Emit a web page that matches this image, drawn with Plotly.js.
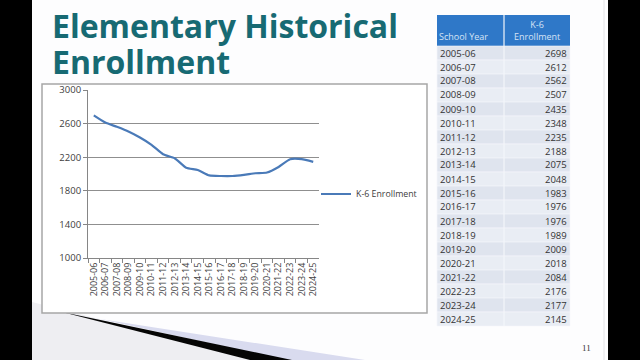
<!DOCTYPE html>
<html>
<head>
<meta charset="utf-8">
<script src="https://cdn.plot.ly/plotly-3.0.1.min.js"></script>
<style>
  html, body { margin: 0; padding: 0; background: #000; }
  #chart { width: 640px; height: 360px; }
</style>
</head>
<body>
<div id="chart"></div>
<script>
// ---- data ----
const schoolYears = ["2005-06","2006-07","2007-08","2008-09","2009-10","2010-11","2011-12","2012-13","2013-14","2014-15",
                     "2015-16","2016-17","2017-18","2018-19","2019-20","2020-21","2021-22","2022-23","2023-24","2024-25"];
const k6Enrollment = [2698,2612,2562,2507,2435,2348,2235,2188,2075,2048,
                      1983,1976,1976,1989,2009,2018,2084,2176,2177,2145];
const yTickValues = [1000,1400,1800,2200,2600,3000];
const seriesName = "K-6 Enrollment";
const titleLines = ["Elementary Historical", "Enrollment"];
const tableHeaderYear = "School Year";
const tableHeaderValue = "K-6<br>Enrollment";
const pageNumber = "11";

// ---- helpers (pixel -> paper) ----
const W = 640, H = 360;
const px = x => x / W;
const py = y => 1 - y / H;

const shapes = [];
const annotations = [];

// slide decoration: hatch area, lavender band, black swoosh
shapes.push({type:'path', xref:'paper', yref:'paper',
  path:`M ${px(32)} ${py(302)} L ${px(260)} ${py(360)} L ${px(32)} ${py(360)} Z`,
  fillcolor:'#eeeef2', line:{width:0}, layer:'below'});
shapes.push({type:'path', xref:'paper', yref:'paper',
  path:`M ${px(100)} ${py(319)} L ${px(365)} ${py(360)} L ${px(285)} ${py(360)} Z`,
  fillcolor:'#d9dbef', line:{width:0}, layer:'below'});
shapes.push({type:'path', xref:'paper', yref:'paper',
  path:`M ${px(62)} ${py(312)} L ${px(292)} ${py(360)} L ${px(250)} ${py(360)} Z`,
  fillcolor:'#050505', line:{width:0}, layer:'below'});

// chart frame
shapes.push({type:'rect', xref:'paper', yref:'paper',
  x0:px(42), x1:px(427), y0:py(313), y1:py(84),
  fillcolor:'#ffffff', line:{color:'#a6a6a6', width:1.5}, layer:'below'});

// table header
const tLeft = 437, tRight = 570, tDiv = 504, hTop = 15, hBot = 46, rowH = 14;
shapes.push({type:'rect', xref:'paper', yref:'paper',
  x0:px(tLeft), x1:px(tRight), y0:py(hBot), y1:py(hTop),
  fillcolor:'#2f78c8', line:{width:0}, layer:'below'});
// table rows
schoolYears.forEach((yr, i) => {
  const top = hBot + i * rowH;
  shapes.push({type:'rect', xref:'paper', yref:'paper',
    x0:px(tLeft), x1:px(tRight), y0:py(top + rowH), y1:py(top),
    fillcolor: i % 2 === 0 ? '#dfe4ee' : '#e9edf4', line:{color:'#f6f7fb', width:0.6}, layer:'below'});
  annotations.push({xref:'paper', yref:'paper', x:px(tLeft + 1), y:py(top + rowH/2),
    xanchor:'left', yanchor:'middle', text:yr, showarrow:false,
    font:{family:'Open Sans', size:9.5, color:'#333333'}});
  annotations.push({xref:'paper', yref:'paper', x:px(tRight - 1), y:py(top + rowH/2),
    xanchor:'right', yanchor:'middle', text:String(k6Enrollment[i]), showarrow:false,
    font:{family:'Open Sans', size:9.5, color:'#333333'}});
});
// column divider
shapes.push({type:'line', xref:'paper', yref:'paper',
  x0:px(tDiv), x1:px(tDiv), y0:py(hBot + rowH * schoolYears.length), y1:py(hTop),
  line:{color:'#f4f6fa', width:1.2}, layer:'below'});
// header texts
annotations.push({xref:'paper', yref:'paper', x:px(tLeft), y:py(hBot - 1),
  xanchor:'left', yanchor:'bottom', text:tableHeaderYear, showarrow:false,
  font:{family:'Open Sans', size:9, color:'#d6e3f5'}});
annotations.push({xref:'paper', yref:'paper', x:px((tDiv + tRight)/2), y:py(hBot - 1),
  xanchor:'center', yanchor:'bottom', text:tableHeaderValue, showarrow:false, align:'center',
  font:{family:'Open Sans', size:9, color:'#d6e3f5'}});

// title (two lines, tighter spacing)
titleLines.forEach((line, i) => {
  annotations.push({xref:'paper', yref:'paper', x:px(50), y:py(2 + i * 36),
    xanchor:'left', yanchor:'top', align:'left', text:'<b>' + line + '</b>', showarrow:false,
    font:{family:'Open Sans', size:32, color:'#176a73'}});
});

// page number
annotations.push({xref:'paper', yref:'paper', x:px(586), y:py(348),
  xanchor:'center', yanchor:'middle', text:pageNumber, showarrow:false,
  font:{family:'Liberation Serif', size:9, color:'#333333'}});

// black side bars and right slide edge
shapes.push({type:'rect', xref:'paper', yref:'paper', x0:0, x1:px(32), y0:0, y1:1,
  fillcolor:'#000000', line:{width:0}});
shapes.push({type:'rect', xref:'paper', yref:'paper', x0:px(608), x1:1, y0:0, y1:1,
  fillcolor:'#000000', line:{width:0}});
shapes.push({type:'line', xref:'paper', yref:'paper', x0:px(604), x1:px(604), y0:0, y1:1,
  line:{color:'#e2e2e6', width:1}});

const trace = {
  type:'scatter', mode:'lines', name:seriesName,
  x:schoolYears, y:k6Enrollment,
  line:{color:'#4a7ab8', width:2.2, shape:'spline', smoothing:0.5}
};

const layout = {
  width:W, height:H,
  margin:{l:0, r:0, t:0, b:0},
  paper_bgcolor:'#fdfdfe',
  plot_bgcolor:'rgba(0,0,0,0)',
  font:{family:'Open Sans', color:'#404040'},
  showlegend:true,
  legend:{x:px(316), y:py(194), xanchor:'left', yanchor:'middle',
          bgcolor:'rgba(0,0,0,0)', borderwidth:0,
          font:{family:'Open Sans', size:8.8, color:'#404040'}},
  xaxis:{domain:[px(88), px(319)], type:'category', range:[-0.5, 19.5],
         tickangle:-90, tickfont:{size:9, color:'#404040'},
         showline:true, linecolor:'#868686', linewidth:1,
         ticks:'outside', tickson:'boundaries', ticklen:4, tickcolor:'#868686',
         showgrid:false, fixedrange:true},
  yaxis:{domain:[py(258), py(90)], range:[1000, 3000],
         tickvals:yTickValues, ticktext:yTickValues.map(String),
         tickfont:{size:9.5, color:'#404040'},
         showline:true, linecolor:'#868686', linewidth:1,
         ticks:'outside', ticklen:4, tickcolor:'#868686',
         showgrid:true, gridcolor:'#8f8f8f', gridwidth:1, zeroline:false, fixedrange:true},
  shapes:shapes,
  annotations:annotations
};

Plotly.newPlot('chart', [trace], layout, {staticPlot:true, displayModeBar:false});
</script>
</body>
</html>
